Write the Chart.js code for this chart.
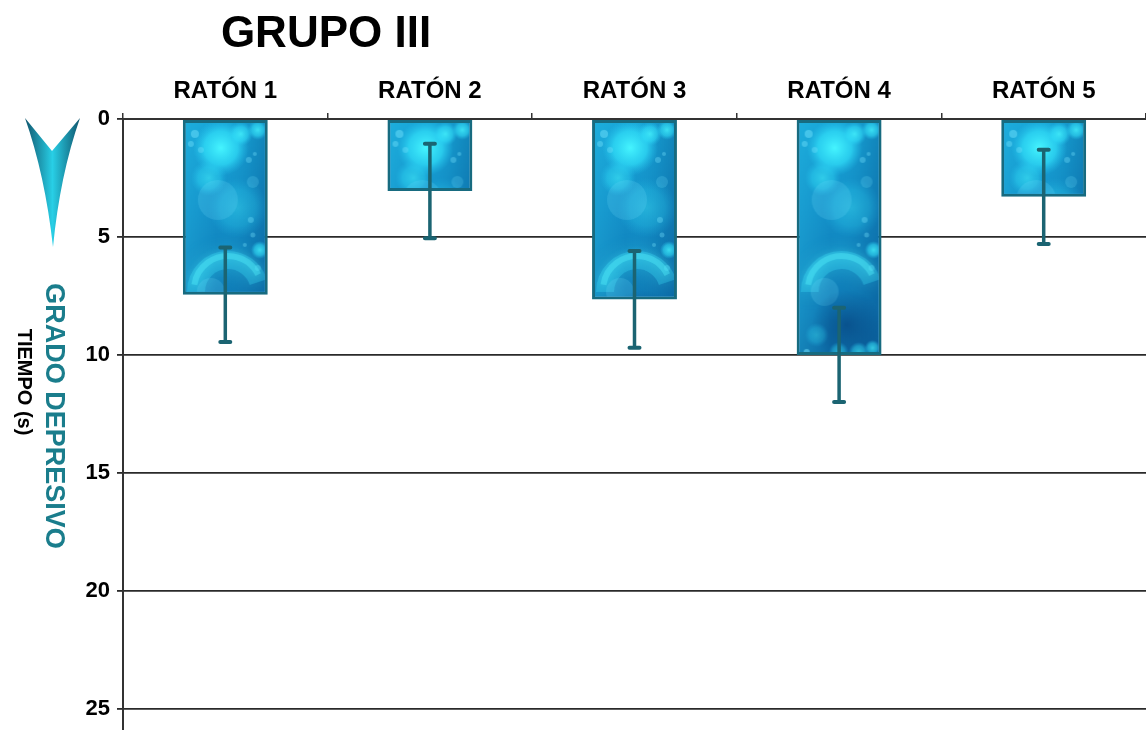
<!DOCTYPE html>
<html>
<head>
<meta charset="utf-8">
<script src="https://cdn.jsdelivr.net/npm/chart.js@4.4.1/dist/chart.umd.min.js"></script>
<style>
  html, body { margin: 0; padding: 0; background: #fff; }
  #box { width: 1146px; height: 730px; position: relative; }
</style>
</head>
<body>
<div id="box"><canvas id="grafico"></canvas></div>
<script>
// datos
const ratones = ['RATÓN 1', 'RATÓN 2', 'RATÓN 3', 'RATÓN 4', 'RATÓN 5'];
const tiempos = [7.45, 3.05, 7.65, 10.0, 3.3];
const errores = [2.0, 2.0, 2.05, 2.0, 2.0];
const ejeMin = 0;
const ejeMax = 25.9;
const ejePaso = 5;

const fuente = "'Liberation Sans', Arial, sans-serif";
const tealOscuro = '#176b80';
const tealTexto = '#1a7d8c';

// textura de las barras (burbujas)
function crearTextura() {
    const c = document.createElement('canvas');
    c.width = 85;
    c.height = 260;
    const g = c.getContext('2d');

    let lin = g.createLinearGradient(0, 0, 0, 260);
    lin.addColorStop(0, '#18a6d8');
    lin.addColorStop(0.35, '#138fc8');
    lin.addColorStop(0.75, '#0f78b4');
    lin.addColorStop(1, '#0a5d98');
    g.fillStyle = lin;
    g.fillRect(0, 0, 85, 260);

    let lado = g.createLinearGradient(0, 0, 85, 0);
    lado.addColorStop(0, 'rgba(40,190,230,0.35)');
    lado.addColorStop(0.4, 'rgba(40,190,230,0)');
    lado.addColorStop(0.8, 'rgba(5,60,120,0.15)');
    lado.addColorStop(1, 'rgba(5,60,120,0.3)');
    g.fillStyle = lado;
    g.fillRect(0, 0, 85, 260);

    function brillo(x, y, r, a) {
        const rg = g.createRadialGradient(x, y, 0, x, y, r);
        rg.addColorStop(0, 'rgba(70,245,255,' + a + ')');
        rg.addColorStop(0.6, 'rgba(50,225,250,' + (a * 0.7) + ')');
        rg.addColorStop(1, 'rgba(40,200,240,0)');
        g.fillStyle = rg;
        g.beginPath();
        g.arc(x, y, r, 0, Math.PI * 2);
        g.fill();
    }
    function burbuja(x, y, r, a) {
        g.fillStyle = 'rgba(120,230,255,' + a + ')';
        g.beginPath();
        g.arc(x, y, r, 0, Math.PI * 2);
        g.fill();
    }

    brillo(38, 28, 28, 1);
    brillo(58, 14, 12, 0.8);
    brillo(75, 10, 10, 0.8);
    brillo(26, 58, 18, 0.55);
    brillo(55, 88, 30, 0.35);
    burbuja(12, 14, 4, 0.45);
    burbuja(8, 24, 3, 0.4);
    burbuja(18, 30, 3, 0.35);
    burbuja(66, 40, 3, 0.35);
    burbuja(72, 34, 2, 0.35);
    burbuja(35, 80, 20, 0.18);
    burbuja(70, 62, 6, 0.2);
    burbuja(68, 100, 3, 0.35);
    burbuja(70, 115, 2.5, 0.35);
    burbuja(62, 125, 2, 0.35);
    burbuja(75, 148, 3, 0.3);

    // arco luminoso, difuso
    g.save();
    g.shadowColor = 'rgba(80,250,255,0.9)';
    g.shadowBlur = 18;
    g.strokeStyle = 'rgba(70,235,255,0.28)';
    g.lineWidth = 18;
    g.beginPath();
    g.arc(45, 172, 32, Math.PI * 1.0, Math.PI * 1.9);
    g.stroke();
    g.shadowBlur = 8;
    g.strokeStyle = 'rgba(90,245,255,0.35)';
    g.lineWidth = 6;
    g.beginPath();
    g.arc(45, 170, 34, Math.PI * 1.05, Math.PI * 1.85);
    g.stroke();
    g.restore();
    brillo(77, 130, 9, 0.8);
    burbuja(28, 172, 14, 0.18);

    // zona oscura inferior
    const osc = g.createRadialGradient(50, 205, 0, 50, 205, 35);
    osc.addColorStop(0, 'rgba(5,60,120,0.6)');
    osc.addColorStop(1, 'rgba(5,60,120,0)');
    g.fillStyle = osc;
    g.fillRect(0, 160, 85, 100);
    brillo(20, 215, 12, 0.35);
    brillo(42, 232, 10, 0.5);
    brillo(62, 232, 10, 0.6);
    brillo(76, 228, 8, 0.7);
    burbuja(10, 232, 3, 0.5);
    burbuja(28, 236, 3, 0.5);
    return c;
}
const textura = crearTextura();

// plugin: texturas, barras de error y adornos
const adornos = {
    id: 'adornos',
    afterDatasetsDraw(chart) {
        const ctx = chart.ctx;
        const meta = chart.getDatasetMeta(0);
        const escY = chart.scales.y;
        const bw = chart.data.datasets[0].borderWidth;

        meta.data.forEach(function (barra, i) {
            const p = barra.getProps(['x', 'y', 'base', 'width'], true);
            const arriba = Math.min(p.y, p.base);
            const abajo = Math.max(p.y, p.base);
            const izq = p.x - p.width / 2;

            ctx.save();
            ctx.beginPath();
            ctx.rect(izq + bw, arriba + bw, p.width - 2 * bw, abajo - arriba - 2 * bw);
            ctx.clip();
            ctx.drawImage(textura, izq, arriba, p.width, textura.height);
            ctx.restore();

            // barra de error
            const y1 = escY.getPixelForValue(tiempos[i] - errores[i]);
            const y2 = escY.getPixelForValue(tiempos[i] + errores[i]);
            ctx.save();
            ctx.strokeStyle = '#1b6472';
            ctx.lineWidth = 3.5;
            ctx.beginPath();
            ctx.moveTo(p.x, y1);
            ctx.lineTo(p.x, y2);
            ctx.stroke();
            ctx.lineWidth = 4;
            ctx.lineCap = 'round';
            ctx.beginPath();
            ctx.moveTo(p.x - 5, y1);
            ctx.lineTo(p.x + 5, y1);
            ctx.moveTo(p.x - 5, y2);
            ctx.lineTo(p.x + 5, y2);
            ctx.stroke();
            ctx.restore();
        });
    },
    afterDraw(chart) {
        const ctx = chart.ctx;
        ctx.save();

        // titulo
        ctx.fillStyle = '#000';
        ctx.font = 'bold 44px ' + fuente;
        ctx.textAlign = 'center';
        ctx.textBaseline = 'alphabetic';
        ctx.fillText('GRUPO III', 326, 47);

        // flecha
        const grad = ctx.createLinearGradient(25, 0, 80, 0);
        grad.addColorStop(0, '#10566e');
        grad.addColorStop(0.5, '#28cfe6');
        grad.addColorStop(1, '#10566e');
        ctx.fillStyle = grad;
        ctx.beginPath();
        ctx.moveTo(25, 118);
        ctx.lineTo(52, 151);
        ctx.lineTo(80, 118);
        ctx.quadraticCurveTo(60, 175, 53, 247);
        ctx.quadraticCurveTo(45, 175, 25, 118);
        ctx.closePath();
        ctx.fill();

        // titulos del eje vertical
        ctx.textAlign = 'center';
        ctx.textBaseline = 'middle';
        ctx.save();
        ctx.translate(53, 416);
        ctx.rotate(Math.PI / 2);
        ctx.fillStyle = tealTexto;
        ctx.font = 'bold 27px ' + fuente;
        ctx.fillText('GRADO DEPRESIVO', 0, 0);
        ctx.restore();

        ctx.save();
        ctx.translate(24, 382);
        ctx.rotate(Math.PI / 2);
        ctx.fillStyle = '#000';
        ctx.font = 'bold 20px ' + fuente;
        ctx.fillText('TIEMPO (s)', 0, 0);
        ctx.restore();

        ctx.restore();
    }
};

const ctx = document.getElementById('grafico');

new Chart(ctx, {
    type: 'bar',
    data: {
        labels: ratones,
        datasets: [{
            label: 'Tiempo',
            data: tiempos,
            backgroundColor: '#1287c2',
            borderColor: tealOscuro,
            borderWidth: 3,
            borderSkipped: false,
            barPercentage: 0.415,
            categoryPercentage: 1
        }]
    },
    options: {
        responsive: true,
        maintainAspectRatio: false,
        animation: false,
        layout: { padding: 0 },
        plugins: {
            legend: { display: false },
            tooltip: { enabled: false }
        },
        scales: {
            x: {
                position: 'top',
                afterFit: function (scale) {
                    scale.height = 119;
                    scale.paddingLeft = 0;
                    scale.paddingRight = 0;
                },
                grid: {
                    display: true,
                    drawOnChartArea: false,
                    drawTicks: true,
                    tickLength: 6,
                    color: '#333',
                    lineWidth: 1.5
                },
                border: { display: true, color: '#333', width: 2 },
                ticks: {
                    color: '#000',
                    padding: 7,
                    maxRotation: 0,
                    font: { family: fuente, size: 24, weight: 'bold' }
                }
            },
            y: {
                reverse: true,
                min: ejeMin,
                max: ejeMax,
                afterFit: function (scale) {
                    scale.width = 123;
                    scale.paddingTop = 0;
                    scale.paddingBottom = 0;
                },
                grid: {
                    color: '#2a2a2a',
                    lineWidth: 1.8,
                    drawTicks: true,
                    tickLength: 6
                },
                border: { display: true, color: '#333', width: 2 },
                ticks: {
                    stepSize: ejePaso,
                    includeBounds: false,
                    color: '#000',
                    padding: 7,
                    font: { family: fuente, size: 22, weight: 'bold' }
                }
            }
        }
    },
    plugins: [adornos]
});
</script>
</body>
</html>
